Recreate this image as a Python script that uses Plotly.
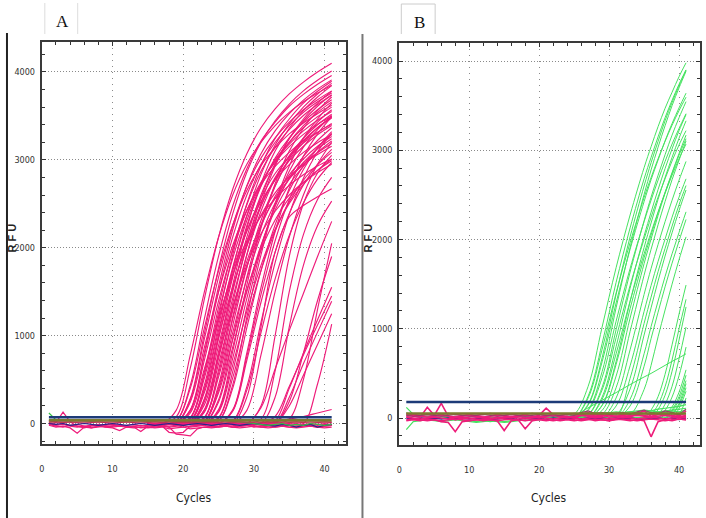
import plotly.graph_objects as go

# ---------------- data: panel A (pink channel) ----------------
KNOTS_A = [15, 17, 19, 21, 23, 25, 27, 29, 31, 33, 35, 37, 39, 41]
A_MAIN = [
    [0,0,75,630,1420,2120,2665,3070,3365,3580,3750,3885,4000,4100],
    [0,0,150,780,1500,2120,2600,2950,3200,3390,3540,3660,3760,3850],
    [0,0,30,435,1195,1905,2475,2900,3215,3430,3610,3745,3860,3960],
    [0,0,30,400,1090,1740,2260,2650,2935,3135,3295,3420,3525,3620],
    [0,0,0,270,965,1665,2250,2700,3020,3250,3430,3570,3685,3785],
    [0,0,0,245,870,1500,2025,2430,2720,2925,3085,3215,3315,3405],
    [0,0,0,155,810,1560,2205,2705,3070,3330,3525,3680,3805,3910],
    [0,0,0,140,725,1395,1970,2420,2745,2975,3150,3290,3405,3495],
    [0,0,0,120,625,1200,1695,2080,2360,2560,2710,2830,2930,3010],
    [0,0,0,70,590,1325,1980,2490,2870,3145,3345,3505,3630,3735],
    [0,0,0,60,520,1165,1740,2190,2525,2770,2945,3085,3195,3285],
    [0,0,0,30,440,1210,1920,2500,2930,3245,3465,3645,3780,3895],
    [0,0,0,30,405,1115,1775,2310,2705,3000,3200,3365,3490,3600],
    [0,0,0,25,355,980,1555,2025,2370,2625,2805,2950,3060,3155],
    [0,0,0,0,270,965,1665,2250,2700,3020,3250,3430,3570,3685],
    [0,0,0,0,250,890,1530,2070,2485,2780,2990,3155,3285,3390],
    [0,0,0,0,215,770,1330,1800,2160,2415,2600,2745,2855,2950],
    [0,0,0,0,160,820,1575,2225,2730,3100,3360,3560,3715,3845],
    [0,0,0,0,145,740,1425,2015,2470,2800,3040,3220,3365,3475],
    [0,0,0,0,130,680,1305,1845,2260,2565,2785,2950,3080,3185],
    [0,0,0,0,70,610,1365,2040,2565,2955,3240,3445,3610,3740],
    [0,0,0,0,65,530,1190,1780,2240,2585,2830,3010,3155,3265],
    [0,0,0,0,30,440,1210,1920,2500,2930,3245,3465,3645,3780],
    [0,0,0,0,30,405,1115,1775,2310,2705,3000,3200,3365,3490],
    [0,0,0,0,25,350,955,1520,1975,2315,2565,2740,2880,2990],
    [0,0,0,0,0,270,965,1665,2250,2700,3020,3250,3430,3570],
    [0,0,0,0,0,245,870,1500,2025,2430,2720,2925,3085,3215],
    [0,0,0,0,0,160,820,1575,2225,2730,3100,3360,3560,3715],
    [0,0,0,0,0,145,740,1425,2015,2470,2800,3040,3220,3365],
    [0,0,0,0,0,70,590,1325,1980,2490,2870,3145,3345,3505],
    [0,0,0,0,0,60,520,1165,1740,2190,2525,2770,2945,3085],
    [0,0,0,0,0,30,440,1210,1920,2500,2930,3245,3465,3645],
    [0,0,0,0,0,30,400,1090,1740,2260,2650,2935,3135,3295],
    [0,0,0,0,0,0,155,805,1545,2185,2680,3040,3295,3490],
    [0,0,0,0,0,0,140,720,1380,1950,2390,2715,2945,3120],
    [0,0,0,0,0,0,30,420,1150,1830,2380,2790,3090,3300],
    [0,0,0,0,0,0,25,380,1035,1645,2140,2510,2780,2970],
    [0,0,0,0,0,0,0,150,780,1500,2120,2600,2950,3200],
    [0,0,0,150,780,1500,2120,2600,2950,3200,3390,3540,3660,3760],
    [0,0,0,0,150,780,1500,2120,2600,2950,3200,3390,3540,3660],
    [0,0,0,285,1025,1765,2385,2860,3200,3445,3635,3785,3905,4010],
    [0,0,0,30,385,1060,1685,2190,2565,2845,3035,3190,3310,3415],
    [0,0,0,0,70,570,1285,1920,2415,2785,3050,3245,3400,3520],
    [0,0,0,0,25,380,1035,1645,2140,2510,2780,2970,3125,3240],
    [0,0,0,0,0,130,665,1275,1800,2210,2505,2720,2880,3010],
    [0,0,0,65,560,1260,1880,2365,2725,2990,3180,3330,3450,3550],
    [0,0,0,0,285,1015,1750,2365,2835,3170,3410,3600,3750,3870],
    [0,0,0,0,0,0,145,765,1470,2080,2550,2890,3135,3320],
]
A_LATE = [
    [0,0,0,0,0,0,0,0,180,620,1060,1480,1900,2300],
    [0,0,0,0,0,0,0,300,1100,1950,2350,2480,2580,2670],
    [0,0,0,0,0,0,0,0,50,600,1500,2150,2550,2800],
    [0,0,0,0,0,0,0,0,0,300,1100,1800,2250,2530],
    [0,0,0,0,0,0,0,0,0,0,250,800,1400,1900],
    [0,0,0,0,0,0,0,0,0,30,400,800,1180,1550],
    [0,0,0,0,0,0,0,0,0,80,420,780,1120,1450],
    [0,0,0,0,0,0,0,0,0,0,300,680,1040,1390],
    [0,0,0,0,0,0,0,0,0,0,200,550,900,1250],
    [0,0,0,0,0,0,0,0,0,0,0,0,450,1130],
    [0,0,0,0,0,0,0,0,0,20,50,80,120,160],
    [0,0,0,0,0,0,0,0,200,1000,1900,2500,2850,3050],
    [0,0,0,0,0,0,0,0,0,0,50,500,1300,2050],
]
CYCLES = list(range(1, 42))
A_NOISE_PINK = [
    [40,10,130,20,-30,-40,-20,-30,-10,-20,-30,-20,-10,-30,-20,-10,-20,-30,-20,-40,-30,-20,-10,-20,-30,-10,-20,-30,-20,-10,-20,-30,-20,-10,-20,-30,-20,-10,-20,-10,-20],
    [-20,-40,-30,-50,-110,-40,-50,-30,-40,-50,-80,-40,-30,-50,-40,-50,-40,-60,-50,-40,-60,-50,-40,-50,-40,-30,-40,-50,-40,-30,-40,-50,-40,-30,-40,-50,-40,-30,-40,-50,-40],
    [10,-10,0,-20,-10,-30,-20,-10,-20,-10,-20,-30,-40,-90,-30,-20,-30,-100,-110,-100,-30,-20,-10,0,-10,-20,-10,0,-10,-20,-10,0,-10,-20,-10,0,-10,-20,-10,0,-10],
    [0,-20,-10,-30,-40,-30,-50,-40,-30,-40,-30,-40,-50,-40,-50,-40,-30,-40,-120,-130,-140,-60,-40,-30,-40,-30,-40,-30,-20,-30,-40,-30,-20,-30,-40,-30,-20,-30,-40,-30,-20],
    [30,20,10,20,10,0,10,20,10,0,10,20,10,0,10,20,10,0,10,20,10,0,10,20,10,0,10,20,10,0,10,20,10,0,10,20,10,0,10,20,10],
    [-10,-30,-40,-20,-30,-50,-30,-20,-40,-30,-20,-40,-30,-20,-40,-30,-20,-40,-30,-20,-40,-30,-20,-40,-30,-20,-40,-30,-20,-40,-30,-20,-40,-30,-20,-40,-30,-20,-40,-30,-20],
]
A_DARKBLUE = [0,-10,0,-20,-10,0,-10,-20,-10,0,-10,-20,-10,0,-10,-20,-10,0,-10,-20,-10,0,-10,-20,-10,0,-10,-20,-10,0,-10,-20,-30,-10,-20,-40,-20,-10,-40,-20,-10]
A_GREEN = [120,40,35,30,35,30,25,30,35,30,25,30,35,30,25,30,35,30,25,30,35,30,25,30,35,30,25,20,10,0,-10,-20,-10,0,-20,-10,-20,0,-10,-20,-10]
A_RED_LEVEL = 18
A_OLIVE_LEVEL = 38
A_THRESHOLD = 72

# ---------------- data: panel B (green channel) ----------------
KNOTS_B = [23, 25, 27, 29, 31, 33, 35, 36, 37, 38, 39, 40, 41]
B_CURVES = [
    [0,40,355,1020,1685,2275,2805,3040,3265,3470,3650,3825,3980],
    [0,0,245,835,1520,2130,2680,2920,3150,3365,3560,3740,3900],
    [0,0,155,675,1385,2030,2600,2860,3100,3330,3535,3725,3900],
    [0,0,95,520,1235,1910,2505,2780,3035,3275,3500,3700,3885],
    [0,0,145,630,1290,1890,2425,2670,2890,3105,3300,3475,3640],
    [0,0,40,345,990,1635,2210,2475,2720,2950,3170,3365,3545],
    [0,0,0,235,800,1455,2040,2305,2560,2795,3015,3220,3400],
    [0,0,0,145,635,1305,1910,2185,2450,2695,2920,3135,3330],
    [0,0,0,85,470,1120,1730,2005,2270,2520,2750,2965,3170],
    [0,0,0,40,340,970,1600,1890,2165,2425,2670,2890,3105],
    [0,0,0,0,225,765,1385,1675,1945,2200,2440,2665,2875],
    [0,0,0,0,135,585,1195,1485,1755,2005,2250,2475,2680],
    [0,0,0,0,0,445,1060,1355,1640,1900,2150,2390,2605],
    [0,0,0,0,35,325,930,1235,1535,1815,2075,2325,2555],
    [0,0,0,0,0,210,720,1025,1310,1585,1840,2080,2310],
    [0,0,0,0,0,135,580,890,1185,1470,1735,1985,2225],
    [0,0,0,0,0,35,320,590,910,1210,1500,1775,2030],
    [0,0,0,0,0,0,0,90,240,490,820,1165,1490],
    [0,0,0,0,0,0,0,40,150,350,650,1000,1330],
    [0,0,0,0,0,0,0,0,0,85,235,475,795],
    [0,30,115,200,285,375,460,500,545,590,635,675,720],
    [0,0,0,0,0,0,0,0,0,35,125,290,540],
    [0,0,0,0,0,0,0,0,0,0,90,240,480],
    [0,0,0,0,0,0,0,0,0,0,75,205,420],
    [0,0,0,0,0,0,0,0,0,0,45,165,385],
    [0,0,0,0,0,0,0,0,0,0,40,145,340],
    [0,0,0,0,0,0,0,0,0,0,0,110,300],
    [0,0,0,0,0,0,0,0,0,0,0,40,225],
    [0,0,0,0,0,0,0,0,40,155,355,665,1020],
    [0,0,0,0,0,0,0,0,95,255,525,875,1245],
    [0,0,35,315,900,1485,2005,2250,2475,2680,2880,3060,3220],
    [0,0,0,140,600,1225,1795,2050,2300,2530,2740,2945,3130],
    [0,0,85,455,1085,1675,2200,2440,2665,2875,3070,3245,3410],
    [0,0,225,770,1400,1965,2470,2695,2905,3100,3280,3445,3595],
    [0,0,0,210,720,1310,1840,2080,2310,2520,2720,2905,3070],
]
B_NOISE_GREEN = [
    [120,40,30,20,30,20,10,0,-20,-30,-40,-30,-40,-30,-40,-30,-20,-30,-10,0,10,0,10,20,30,40,50,40,50,60,50,60,70,60,70,80,70,80,90,100,110],
    [-130,-40,-30,-20,-30,-40,-30,-20,-30,-40,-50,-40,-30,-40,-50,-40,-30,-20,-30,-20,-10,0,10,0,10,20,30,20,30,40,30,40,50,40,50,60,70,60,80,70,90],
    [60,20,10,20,10,0,10,20,10,0,-10,0,10,0,-10,0,10,20,10,20,30,20,30,40,30,40,50,60,50,60,70,60,70,80,90,80,100,110,120,130,150],
]
B_NOISE_PINK = [
    [40,20,10,120,30,165,20,-20,0,10,20,0,-10,10,0,10,20,0,10,30,110,40,10,20,0,30,60,20,40,10,20,30,10,50,80,20,40,30,60,20,80],
    [-20,-10,-20,-30,-20,-40,-50,-153,-40,-30,-20,-30,-20,-30,-140,-30,-20,-120,-30,-20,-30,-20,-30,-20,-30,-20,-10,-30,-20,-30,-10,-20,-30,-20,-30,-210,-40,-20,-30,-10,-20],
    [10,0,-10,0,10,0,-10,10,0,-10,0,10,0,-10,0,10,0,-10,0,10,0,-10,0,10,0,-10,0,10,0,-10,0,10,0,-10,0,10,0,-10,0,10,0],
    [-30,-20,-30,-10,-20,-30,-20,-10,-20,-30,-20,-10,-20,-30,-20,-10,-20,-30,-20,-10,-20,-30,-20,-10,-20,-30,-20,-10,-20,-30,-20,-10,-20,-30,-20,-10,-20,-30,-20,-10,-20],
    [20,30,20,10,20,30,20,10,20,30,20,10,20,30,20,10,20,30,20,10,20,30,20,10,20,30,20,10,20,30,20,10,20,30,20,10,20,30,20,10,20],
    [50,40,30,40,30,40,50,40,30,40,30,40,50,40,30,40,30,40,50,40,30,40,30,40,50,40,30,40,30,40,50,40,30,40,30,40,50,40,30,40,30],
]
B_MAROON = [30,20,30,40,30,20,30,40,30,20,30,40,30,20,30,40,30,20,30,40,30,20,30,40,30,60,80,50,60,40,50,60,40,70,90,60,50,80,60,40,100]
B_DARKBLUE = [0,-10,0,-5,0,-10,0,-5,0,-10,0,-5,-15,-10,0,-5,-15,0,-10,-5,-15,0,-10,-5,0,-10,0,-5,0,-10,0,-5,0,-10,-15,-5,0,-10,0,-15,0]
B_OLIVE_LEVEL = 52
B_THRESHOLD = 180

X_TICKS = [0, 10, 20, 30, 40]
Y_TICKS = [0, 1000, 2000, 3000, 4000]

# ---------------- styling ----------------
W, H = 706, 518
PINK = "rgb(238,28,122)"
GREEN = "rgb(70,226,96)"
NAVY = "#1d3b78"
OLIVE = "#7b7a2e"
RED = "#b23a4a"
DBLUE = "#27278a"
MAROON = "#9a3a6a"
TICKFONT = dict(family="Liberation Sans Narrow, Arial Narrow, DejaVu Sans Condensed, Liberation Sans, sans-serif",
                size=9, color="#333333")

fig = go.Figure()


def line(x, y, color, width, ax, shape="linear"):
    fig.add_trace(go.Scatter(x=x, y=y, mode="lines", xaxis="x" + ax, yaxis="y" + ax,
                             line=dict(color=color, width=width, shape=shape),
                             showlegend=False, hoverinfo="skip"))


# panel A
for row in A_MAIN + A_LATE:
    line(KNOTS_A, row, PINK, 1.15, "", "spline")
for row in A_NOISE_PINK:
    line(CYCLES, row, PINK, 1.2, "")
line(CYCLES, A_DARKBLUE, DBLUE, 1.2, "")
line(CYCLES, A_GREEN, "#35c045", 1.2, "")
line([CYCLES[0], CYCLES[-1]], [A_RED_LEVEL, A_RED_LEVEL], RED, 1.5, "")
line([CYCLES[0], CYCLES[-1]], [A_OLIVE_LEVEL, A_OLIVE_LEVEL], OLIVE, 2.5, "")
line([CYCLES[0], CYCLES[-1]], [A_THRESHOLD, A_THRESHOLD], NAVY, 2.5, "")

# panel B
for row in B_CURVES:
    line(KNOTS_B, row, GREEN, 1, "2", "spline")
for row in B_NOISE_GREEN:
    line(CYCLES, row, GREEN, 1.2, "2")
line(CYCLES, B_DARKBLUE, DBLUE, 1.5, "2")
for row in B_NOISE_PINK:
    line(CYCLES, row, PINK, 1.6, "2")
line(CYCLES, B_MAROON, MAROON, 1.2, "2")
line([CYCLES[0], CYCLES[-1]], [B_OLIVE_LEVEL, B_OLIVE_LEVEL], OLIVE, 2.5, "2")
line([CYCLES[0], CYCLES[-1]], [B_THRESHOLD, B_THRESHOLD], NAVY, 2.5, "2")


def xaxis(domain, anchor, rng):
    return dict(domain=domain, anchor=anchor, range=rng, tickvals=X_TICKS,
                ticks="inside", ticklen=4, tickcolor="#333", tickwidth=1,
                minor=dict(dtick=2, tick0=0, ticks="inside", ticklen=3, tickcolor="#333", showgrid=False),
                showgrid=True, gridcolor="#8a8a8a", griddash="1px,5px", gridwidth=1,
                showline=True, linecolor="#3a3a3a", linewidth=2, mirror="ticks",
                zeroline=False, tickfont=TICKFONT, ticklabelstandoff=15)


def yaxis(domain, anchor, rng):
    return dict(domain=domain, anchor=anchor, range=rng, tickvals=Y_TICKS,
                ticks="inside", ticklen=4, tickcolor="#333", tickwidth=1,
                minor=dict(dtick=200, tick0=0, ticks="inside", ticklen=3, tickcolor="#333", showgrid=False),
                showgrid=True, gridcolor="#8a8a8a", griddash="1px,2px", gridwidth=1,
                showline=True, linecolor="#3a3a3a", linewidth=2, mirror="ticks",
                zeroline=False, tickfont=TICKFONT, ticklabelstandoff=3)


fig.update_layout(
    width=W, height=H, autosize=False,
    margin=dict(l=0, r=0, t=0, b=0),
    paper_bgcolor="white", plot_bgcolor="white",
    xaxis=xaxis([39 / W, 344 / W], "y", [0, 42.96]),
    yaxis=yaxis([1 - 444 / H, 1 - 42 / H], "x", [-233, 4341]),
    xaxis2=xaxis([398 / W, 700 / W], "y2", [0, 43]),
    yaxis2=yaxis([1 - 445 / H, 1 - 43 / H], "x2", [-302, 4202]),
)

LABEL_FONT = dict(family="Liberation Sans Narrow, Arial Narrow, DejaVu Sans Condensed, Liberation Sans, sans-serif",
                  size=12, color="#222222")
RFU_FONT = dict(family="Liberation Sans, sans-serif", size=11, color="#222222")
ann = [
    dict(text="A", x=60 / W, y=1 - 21.5 / H, font=dict(family="Liberation Serif, serif", size=17, color="#111")),
    dict(text="B", x=418 / W, y=1 - 22 / H, font=dict(family="Liberation Serif, serif", size=17, color="#111")),
    dict(text="<b>R F U</b>", x=9.5 / W, y=1 - 238 / H, textangle=-90, font=RFU_FONT),
    dict(text="<b>R F U</b>", x=367 / W, y=1 - 238 / H, textangle=-90, font=RFU_FONT),
    dict(text="Cycles", x=192 / W, y=1 - 498 / H, font=LABEL_FONT),
    dict(text="Cycles", x=548 / W, y=1 - 498 / H, font=LABEL_FONT),
]
for a in ann:
    a.update(xref="paper", yref="paper", showarrow=False, xanchor="center", yanchor="middle")
fig.update_layout(annotations=ann)

shapes = [
    dict(type="line", x0=4 / W, x1=4 / W, y0=1 - 33 / H, y1=0, line=dict(color="#222", width=2)),
    dict(type="line", x0=361 / W, x1=361 / W, y0=1 - 34 / H, y1=0, line=dict(color="#777", width=2)),
    dict(type="line", x0=42 / W, x1=42 / W, y0=1 - 3 / H, y1=1 - 34 / H, line=dict(color="#ddd", width=1)),
    dict(type="line", x0=75 / W, x1=75 / W, y0=1 - 3 / H, y1=1 - 34 / H, line=dict(color="#ddd", width=1)),
    dict(type="line", x0=400 / W, x1=400 / W, y0=1 - 4 / H, y1=1 - 34 / H, line=dict(color="#ccc", width=1)),
    dict(type="line", x0=434 / W, x1=434 / W, y0=1 - 4 / H, y1=1 - 34 / H, line=dict(color="#ccc", width=1)),
    dict(type="line", x0=400 / W, x1=434 / W, y0=1 - 4 / H, y1=1 - 4 / H, line=dict(color="#ccc", width=1)),
]
for s in shapes:
    s.update(xref="paper", yref="paper")
fig.update_layout(shapes=shapes)

fig.write_html("out.html", config={"displayModeBar": False},
               post_script="document.body.style.margin='0px';document.body.style.overflow='hidden';")
